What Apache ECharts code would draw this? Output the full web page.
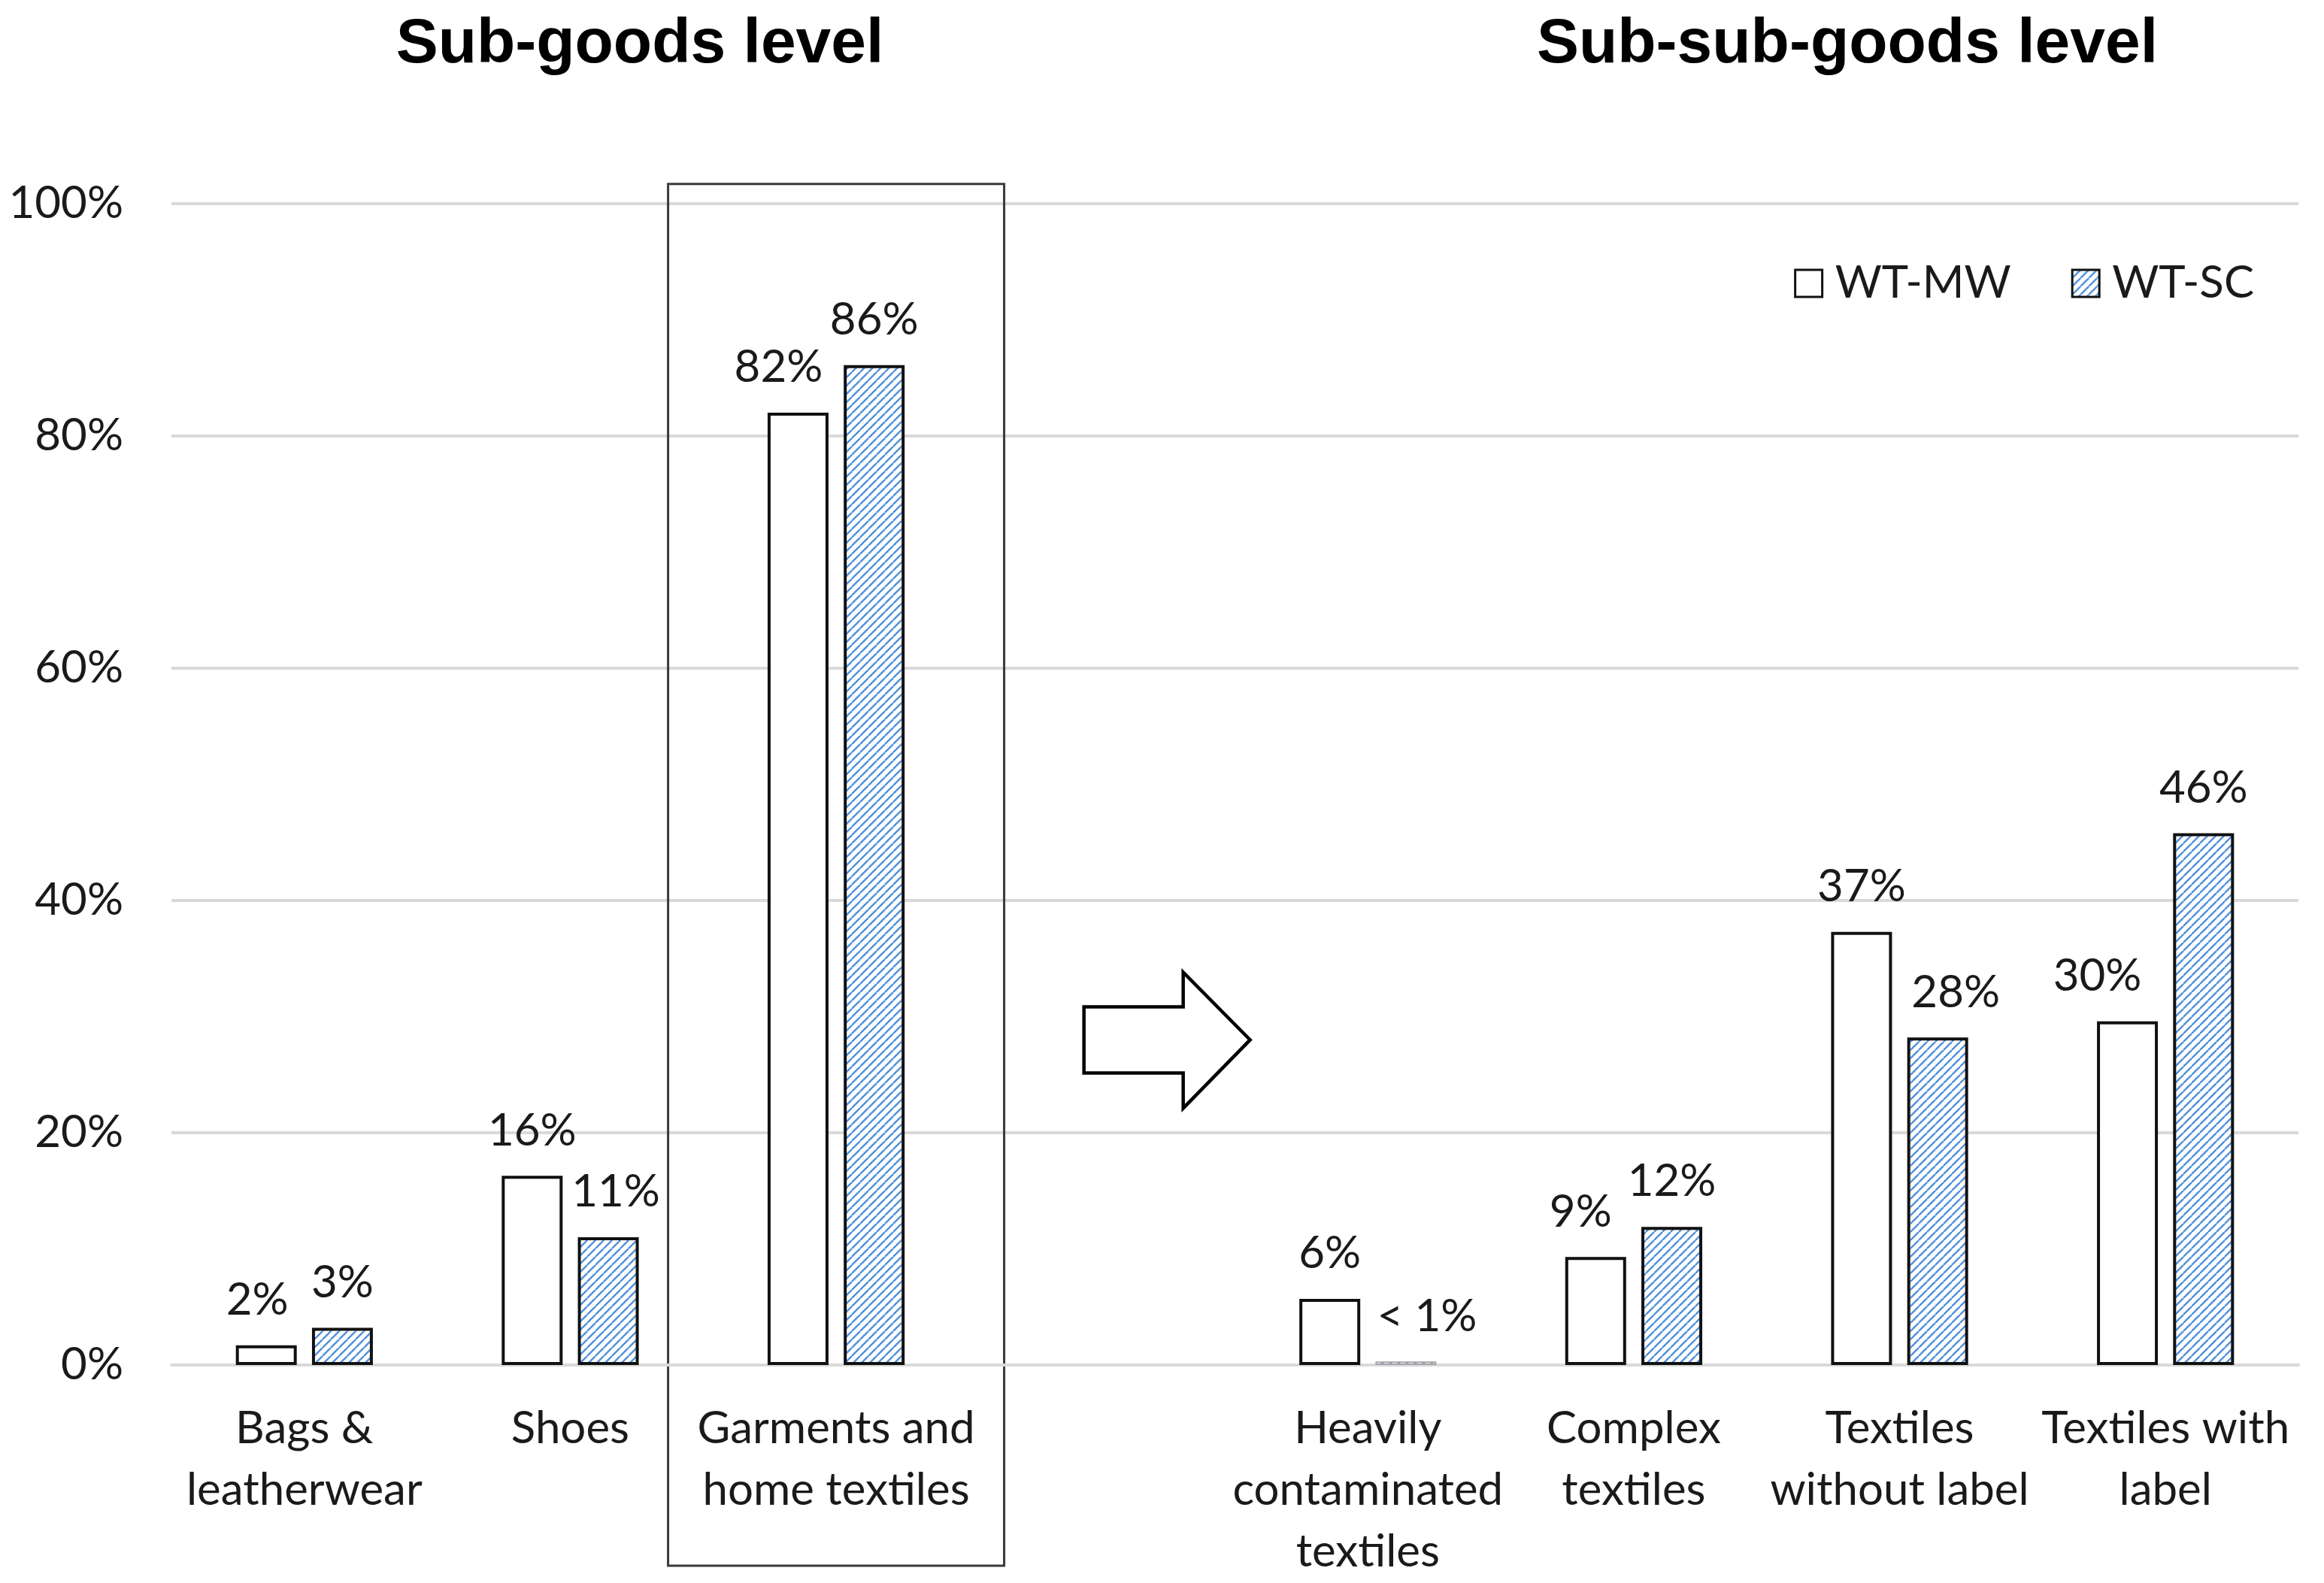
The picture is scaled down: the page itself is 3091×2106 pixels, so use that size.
<!DOCTYPE html>
<html>
<head>
<meta charset="utf-8">
<script src="https://cdn.jsdelivr.net/npm/echarts@6/dist/echarts.min.js"></script>
<style>
html,body{margin:0;padding:0;background:#fff;}
#chart{width:3091px;height:2106px;}
</style>
</head>
<body>
<div id="chart"></div>
<script>
// ---- data ----
const categories = ['Bags &\nleatherwear', 'Shoes', 'Garments and\nhome textiles', '', 'Heavily\ncontaminated\ntextiles', 'Complex\ntextiles', 'Textiles\nwithout label', 'Textiles with\nlabel'];
const seriesNames = ['WT-MW', 'WT-SC'];
const wtMW = [1.7, 16.3, 82.0, null, 5.7, 9.3, 37.3, 29.6];
const wtSC = [3.2, 11.0, 86.1, null, 0.3, 11.9, 28.2, 45.8];
const mwLabels = ['2%', '16%', '82%', '', '6%', '9%', '37%', '30%'];
const scLabels = ['3%', '11%', '86%', '', '< 1%', '12%', '28%', '46%'];
const panelTitles = ['Sub-goods level', 'Sub-sub-goods level'];

// ---- styling helpers ----
const FONT = 'Lato';
const TXT = '#1a1a1a';
const mwNudge = [-12, 0, -26, 0, 0, -20, 0, -40];
const scNudge = [0, 10, 0, 0, 28, 0, 24, 0];

function hatch() {
  const s = 11;
  const c = document.createElement('canvas');
  c.width = s; c.height = s;
  const g = c.getContext('2d');
  g.fillStyle = '#ffffff';
  g.fillRect(0, 0, s, s);
  g.strokeStyle = '#5290dc';
  g.lineWidth = 2.4;
  for (let k = -1; k <= 1; k++) {
    g.beginPath();
    g.moveTo(k * s, s);
    g.lineTo(k * s + s, 0);
    g.stroke();
  }
  return c;
}
const hatchFill = { image: hatch(), repeat: 'repeat' };

function buildData(vals, labels, nudge, isSC) {
  return vals.map((v, i) => {
    const d = {
      value: v,
      label: { formatter: labels[i], offset: [nudge[i], 0] }
    };
    if (isSC && v !== null && v < 1) {
      d.itemStyle = { borderColor: '#a6a6a6', borderWidth: 2 };
    }
    return d;
  });
}

const chart = echarts.init(document.getElementById('chart'), null, { renderer: 'canvas' });

const labelStyle = {
  show: true,
  position: 'top',
  distance: 30,
  fontFamily: FONT,
  fontSize: 60,
  color: TXT
};

chart.setOption({
  backgroundColor: '#ffffff',
  animation: false,
  grid: { left: 228, right: 34, top: 271, bottom: 284, containLabel: false },
  legend: {
    data: seriesNames,
    right: 88,
    top: 342,
    icon: 'rect',
    itemWidth: 36,
    itemHeight: 36,
    itemGap: 80,
    itemStyle: { borderWidth: 3 },
    textStyle: { fontFamily: FONT, fontSize: 60, color: TXT, padding: [0, 0, 0, 12] }
  },
  xAxis: {
    type: 'category',
    data: categories,
    axisTick: { show: false },
    axisLine: { show: true, lineStyle: { color: '#d9d9d9', width: 4 } },
    axisLabel: {
      interval: 0,
      margin: 44,
      fontFamily: FONT,
      fontSize: 60,
      lineHeight: 82,
      color: TXT
    }
  },
  yAxis: {
    type: 'value',
    min: 0,
    max: 100,
    interval: 20,
    axisLine: { show: false },
    axisTick: { show: false },
    splitLine: { lineStyle: { color: '#d9d9d9', width: 4 } },
    axisLabel: {
      formatter: '{value}%',
      margin: 64,
      fontFamily: FONT,
      fontSize: 60,
      color: TXT
    }
  },
  series: [
    {
      name: seriesNames[0],
      type: 'bar',
      barWidth: 81,
      barGap: '25%',
      data: buildData(wtMW, mwLabels, mwNudge, false),
      itemStyle: { color: '#ffffff', borderColor: '#111111', borderWidth: 4 },
      label: labelStyle
    },
    {
      name: seriesNames[1],
      type: 'bar',
      barWidth: 81,
      barGap: '25%',
      data: buildData(wtSC, scLabels, scNudge, true),
      itemStyle: { color: hatchFill, borderColor: '#111111', borderWidth: 4 },
      label: labelStyle
    }
  ]
});

// ---- decorations anchored to the axes ----
const p0 = chart.convertToPixel({ gridIndex: 0 }, [0, 0]);
const p1 = chart.convertToPixel({ gridIndex: 0 }, [1, 0]);
const cw = p1[0] - p0[0];
const boxTL = chart.convertToPixel({ gridIndex: 0 }, [2, 101.7]);
const axisY = p0[1];
const boxHalf = 0.632 * cw;
const arrowC = chart.convertToPixel({ gridIndex: 0 }, [3, 28]);
const ax = arrowC[0] + 5, ay = arrowC[1];
const arrowPts = [
  [ax - 29, ay - 44], [ax + 103, ay - 44], [ax + 103, ay - 90], [ax + 192, ay],
  [ax + 103, ay + 91], [ax + 103, ay + 44], [ax - 29, ay + 44]
];

chart.setOption({
  graphic: [
    {
      type: 'rect',
      shape: { x: boxTL[0] - boxHalf, y: boxTL[1], width: boxHalf * 2, height: axisY + 267 - boxTL[1] },
      style: { fill: 'none', stroke: '#3a3a3a', lineWidth: 3 },
      silent: true
    },
    {
      type: 'polygon',
      shape: { points: arrowPts },
      style: { fill: '#ffffff', stroke: '#000000', lineWidth: 4.5 },
      silent: true
    },
    {
      type: 'text',
      x: 851,
      y: 60,
      style: { text: panelTitles[0], font: 'bold 84px "Liberation Sans", Arial, sans-serif', fill: '#000', align: 'center', verticalAlign: 'middle' }
    },
    {
      type: 'text',
      x: 2457,
      y: 60,
      style: { text: panelTitles[1], font: 'bold 84px "Liberation Sans", Arial, sans-serif', fill: '#000', align: 'center', verticalAlign: 'middle' }
    }
  ]
});
</script>
</body>
</html>
